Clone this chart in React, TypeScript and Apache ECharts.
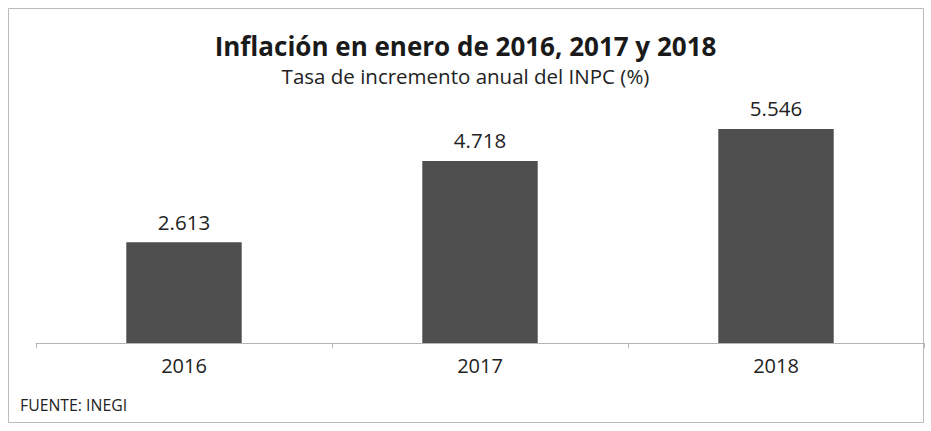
import React, { useEffect, useRef } from "react";
import * as echarts from "echarts";

const categories = ["2016", "2017", "2018"];
const values = [2.613, 4.718, 5.546];
const valueLabels = ["2.613", "4.718", "5.546"];
const titleText = "Inflación en enero de 2016, 2017 y 2018";
const subtitleText = "Tasa de incremento anual del INPC (%)";
const sourceText = "FUENTE: INEGI";

export default function App() {
  const ref = useRef<HTMLDivElement>(null);
  useEffect(() => {
    if (!ref.current) return;
    const chart = echarts.init(ref.current, undefined, { renderer: "svg" });
    chart.setOption({
      animation: false,
      backgroundColor: "#ffffff",
      title: [
        {
          text: titleText,
          left: "center",
          top: 31,
          padding: 0,
          textStyle: { fontFamily: "Open Sans", fontSize: 26, lineHeight: 30, fontWeight: "bold", color: "#1a1a1a" },
        },
        {
          text: subtitleText,
          left: "center",
          top: 64,
          padding: 0,
          textStyle: { fontFamily: "Open Sans", fontSize: 20.5, lineHeight: 24, fontWeight: "normal", color: "#222" },
        },
      ],
      grid: { left: 36, right: 7, top: 111.4, bottom: 88, containLabel: false },
      xAxis: {
        type: "category",
        data: categories,
        axisLine: { lineStyle: { color: "#b5b5b5", width: 1 } },
        axisTick: { show: true, length: 5, lineStyle: { color: "#b5b5b5" } },
        axisLabel: { fontFamily: "Open Sans", fontSize: 20, color: "#222", margin: 12 },
      },
      yAxis: {
        type: "value",
        min: 0,
        max: 6,
        show: false,
        splitLine: { show: false },
      },
      series: [
        {
          type: "bar",
          data: values,
          barWidth: "39%",
          itemStyle: { color: "#4f4f4f" },
          label: {
            show: true,
            position: "top",
            distance: 10,
            formatter: (p: any) => valueLabels[p.dataIndex],
            fontFamily: "Open Sans",
            fontSize: 20.5,
            color: "#222",
          },
        },
      ],
      graphic: [
        {
          type: "rect",
          shape: { x: 8.5, y: 8.5, width: 915, height: 414 },
          style: { fill: "none", stroke: "#bbbbbb", lineWidth: 1 },
          silent: true,
        },
        {
          type: "text",
          left: 20,
          top: 397,
          style: { text: sourceText, fontFamily: "Open Sans", fontSize: 15.8, fill: "#222" },
        },
      ],
    });
    return () => chart.dispose();
  }, []);
  return <div ref={ref} style={{ position: "absolute", left: 0, top: 0, width: 931, height: 431 }} />;
}
